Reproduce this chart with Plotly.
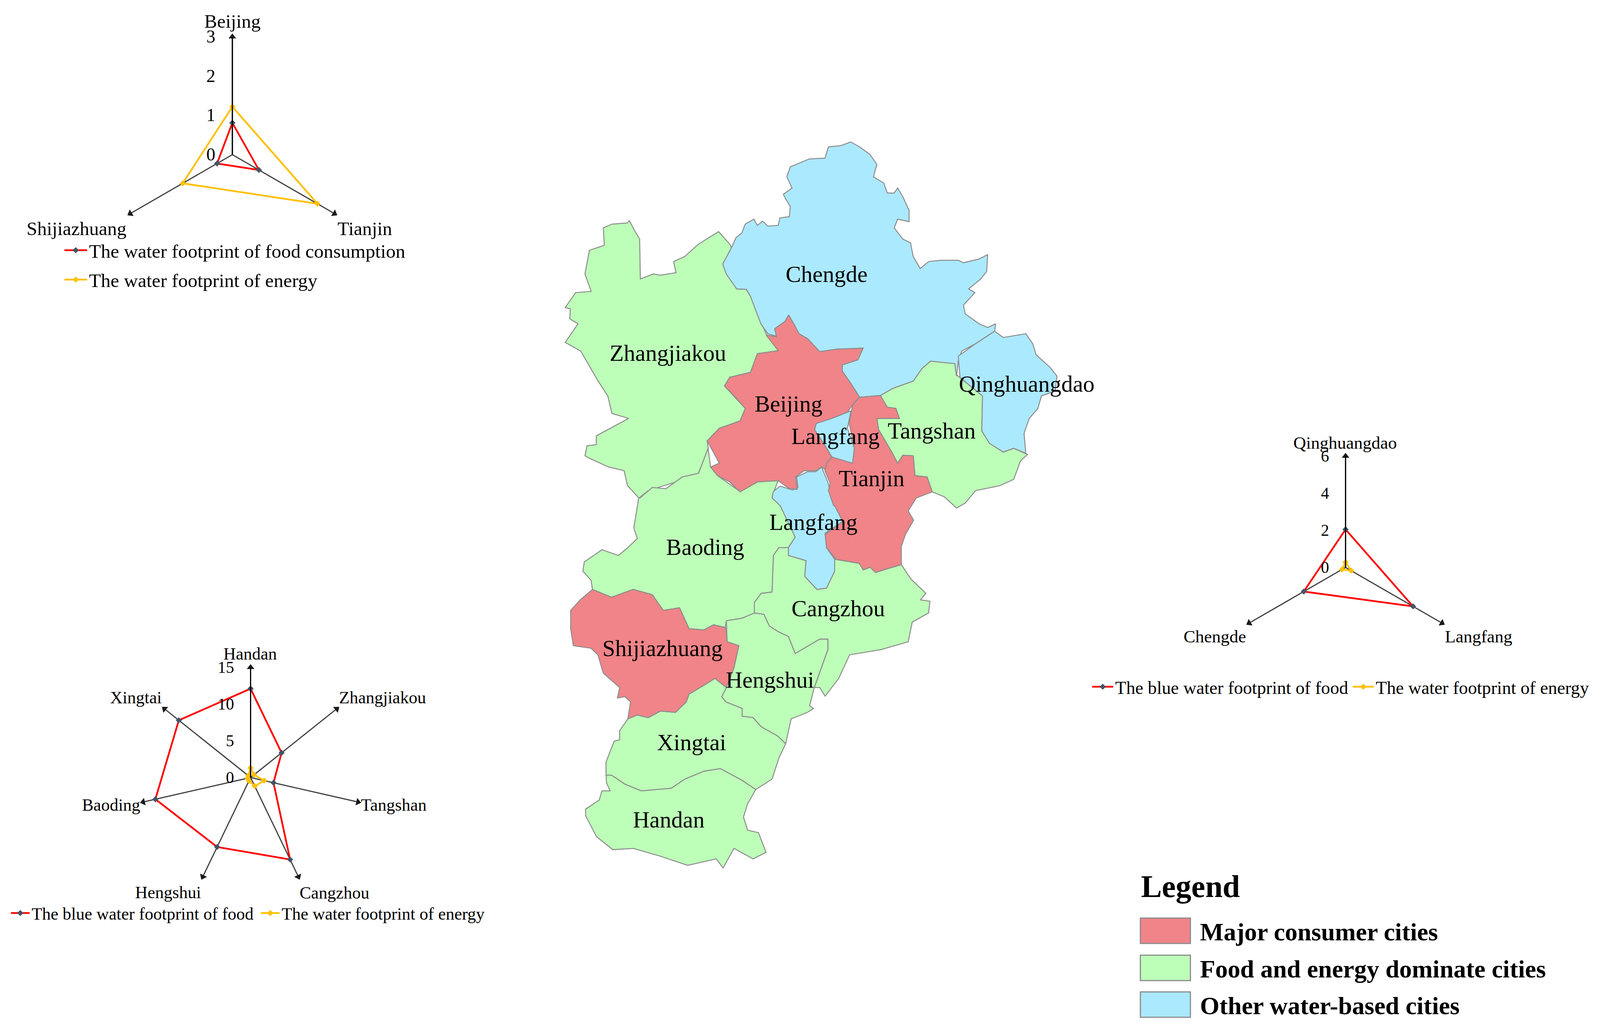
import plotly.graph_objects as go

W, H = 4117, 2635

# radar data
north_cities = ["Beijing", "Tianjin", "Shijiazhuang"]
north_food = [0.81, 0.78, 0.45]
north_energy = [1.22, 2.5, 1.46]
north_ticks = [0, 1, 2, 3]

south_cities = ["Handan", "Zhangjiakou", "Tangshan", "Cangzhou", "Hengshui", "Baoding", "Xingtai"]
south_food = [12.1, 5.4, 3.2, 12.4, 10.5, 13.3, 12.5]
south_energy = [1.3, 0.6, 1.9, 1.3, 0.5, 0.4, 0.4]
south_ticks = [0, 5, 10, 15]

east_cities = ["Qinghuangdao", "Langfang", "Chengde"]
east_food = [2.05, 4.2, 2.6]
east_energy = [0.28, 0.35, 0.22]
east_ticks = [0, 2, 4, 6]

upper_crop = lambda pts: [(1400 + x / 1.12, 330 + y / 1.568) for x, y in pts]
lower_crop = lambda pts: [(1400 + x / 1.425, 1200 + y / 1.493) for x, y in pts]

chengde = upper_crop([(880, 40), (905, 60), (935, 90), (955, 130), (945, 180), (975, 205), (985, 245), (1005, 245), (1015, 225), (1030, 260), (1048, 315), (1048, 360), (1015, 350), (1005, 385), (1030, 430), (1052, 445), (1060, 500), (1080, 548), (1105, 520), (1140, 515), (1190, 515), (1205, 525), (1250, 510), (1275, 492), (1272, 560), (1255, 590), (1220, 630), (1238, 645), (1205, 695), (1210, 730), (1250, 770), (1275, 785), (1298, 770), (1295, 800), (1240, 850), (1200, 880), (1190, 920), (1185, 980), (1180, 930), (1110, 920), (1085, 950), (1060, 1000), (1000, 1030), (965, 1058), (905, 1065), (880, 1010), (855, 960), (855, 935), (900, 915), (915, 868), (840, 872), (790, 882), (755, 830), (730, 810), (715, 770), (700, 735), (690, 760), (660, 790), (665, 820), (640, 810), (620, 770), (590, 660), (578, 632), (550, 630), (520, 570), (510, 530), (535, 465), (548, 425), (565, 405), (575, 370), (600, 350), (610, 375), (625, 358), (640, 378), (670, 375), (675, 345), (702, 340), (705, 300), (690, 265), (685, 250), (710, 225), (695, 180), (705, 140), (760, 108), (805, 105), (815, 60), (850, 55)])
qinghuangdao = upper_crop([(1295, 800), (1320, 825), (1385, 810), (1405, 850), (1415, 895), (1455, 945), (1475, 980), (1470, 1040), (1430, 1060), (1420, 1110), (1395, 1150), (1380, 1210), (1385, 1290), (1350, 1270), (1320, 1285), (1280, 1250), (1258, 1200), (1260, 1060), (1195, 985), (1190, 900), (1240, 850)])
tangshan = upper_crop([(1110, 920), (1180, 930), (1185, 975), (1260, 1060), (1258, 1200), (1280, 1250), (1320, 1285), (1350, 1270), (1390, 1295), (1370, 1320), (1350, 1395), (1310, 1420), (1240, 1440), (1210, 1490), (1185, 1510), (1150, 1465), (1115, 1445), (1100, 1385), (1065, 1380), (1060, 1300), (1030, 1298), (1015, 1330), (1000, 1290), (960, 1195), (955, 1150), (1020, 1150), (1010, 1110), (985, 1105), (965, 1058), (1000, 1030), (1060, 1000), (1085, 950)])
beijing = upper_crop([(700, 735), (715, 770), (730, 810), (755, 830), (790, 882), (840, 872), (915, 868), (900, 915), (855, 935), (855, 960), (880, 1010), (905, 1065), (885, 1095), (870, 1125), (825, 1150), (780, 1170), (775, 1195), (810, 1270), (825, 1305), (810, 1330), (805, 1355), (795, 1345), (780, 1360), (745, 1360), (720, 1385), (725, 1435), (700, 1430), (670, 1400), (610, 1405), (560, 1445), (530, 1405), (495, 1380), (475, 1345), (500, 1330), (465, 1240), (500, 1190), (560, 1160), (575, 1110), (550, 1070), (515, 1020), (530, 985), (590, 965), (610, 890), (670, 878), (635, 815), (665, 822), (660, 790), (690, 760)])
tianjin = (upper_crop([(905, 1065), (965, 1058), (985, 1105), (1010, 1110), (1020, 1150), (955, 1150), (960, 1195), (1000, 1290), (1015, 1330), (1030, 1298), (1060, 1300), (1065, 1380), (1100, 1385), (1115, 1445)])
           + lower_crop([(1360, 100), (1330, 150), (1350, 185), (1320, 240), (1305, 285), (1305, 355), (1240, 375), (1210, 385), (1190, 365), (1165, 375), (1150, 350), (1065, 335), (1030, 290), (1025, 240), (1090, 190), (1060, 130)])
           + upper_crop([(830, 1500), (815, 1440), (820, 1410), (805, 1360), (810, 1330), (825, 1305), (885, 1330), (890, 1270), (875, 1170), (885, 1095)]))
langfang_north = upper_crop([(880, 1120), (870, 1190), (890, 1270), (885, 1330), (850, 1320), (825, 1305), (810, 1270), (775, 1195), (780, 1170), (825, 1150), (870, 1125)])
langfang_south = lower_crop([(1012, -18), (1035, 40), (1045, 80), (1060, 130), (1090, 190), (1025, 235), (1030, 290), (1060, 335), (1060, 380), (1030, 445), (995, 450), (950, 400), (955, 340), (890, 320), (890, 290), (915, 250), (860, 130), (830, 100), (835, 75), (860, 55), (905, 70), (925, 60), (920, 20), (960, 0), (990, 0)])
zhangjiakou = upper_crop([(240, 355), (255, 395), (270, 430), (272, 590), (310, 570), (330, 575), (375, 565), (368, 520), (400, 500), (440, 450), (498, 400), (530, 450), (535, 465), (510, 530), (550, 630), (578, 632), (590, 660), (635, 810), (670, 878), (610, 890), (590, 965), (530, 985), (515, 1020), (575, 1110), (560, 1160), (500, 1190), (465, 1240), (468, 1270), (440, 1370), (400, 1395), (340, 1420), (295, 1440), (268, 1470), (235, 1420), (225, 1360), (180, 1345), (125, 1310), (112, 1300), (118, 1260), (145, 1255), (145, 1220), (185, 1190), (238, 1150), (190, 1130), (178, 1060), (150, 1000), (100, 880), (55, 845), (92, 770), (68, 750), (70, 710), (55, 705), (85, 645), (130, 640), (112, 570), (125, 475), (168, 455), (165, 385), (190, 370), (235, 365)])
baoding = lower_crop([(345, 100), (390, 60), (440, 65), (500, 20), (560, 6), (595, -90), (604, -18), (630, 15), (713, 76), (776, 39), (852, 34), (830, 95), (860, 130), (915, 250), (890, 290), (855, 290), (835, 320), (830, 460), (790, 465), (765, 500), (765, 540), (720, 560), (662, 570), (658, 595), (615, 585), (580, 605), (525, 600), (490, 520), (430, 530), (390, 470), (320, 450), (240, 480), (170, 450), (165, 415), (135, 380), (140, 345), (205, 298), (265, 320), (295, 295), (335, 255), (322, 215), (340, 100)])
shijiazhuang = lower_crop([(170, 450), (240, 480), (320, 450), (390, 470), (430, 530), (490, 520), (525, 600), (580, 605), (615, 585), (660, 597), (665, 650), (708, 665), (690, 750), (662, 825), (620, 790), (590, 810), (525, 850), (515, 880), (475, 920), (420, 915), (375, 940), (335, 930), (300, 945), (310, 880), (290, 860), (262, 865), (270, 825), (210, 770), (190, 700), (165, 675), (100, 665), (90, 600), (90, 530), (125, 490)])
cangzhou = lower_crop([(1060, 335), (1150, 350), (1165, 375), (1190, 365), (1210, 385), (1305, 355), (1340, 410), (1395, 465), (1375, 490), (1410, 495), (1405, 540), (1345, 575), (1330, 650), (1230, 680), (1115, 700), (1075, 790), (1025, 858), (1005, 825), (985, 825), (1035, 680), (1035, 640), (1005, 640), (915, 695), (890, 630), (850, 610), (820, 590), (800, 545), (765, 540), (765, 500), (790, 465), (830, 460), (835, 320), (855, 290), (890, 290), (890, 320), (955, 340), (950, 400), (995, 450), (1030, 445), (1060, 380)])
hengshui = lower_crop([(662, 570), (720, 560), (765, 540), (800, 545), (820, 590), (850, 610), (890, 630), (915, 695), (1005, 640), (1035, 640), (1035, 680), (985, 825), (968, 895), (982, 905), (960, 920), (900, 945), (880, 1040), (850, 1010), (790, 975), (760, 940), (720, 935), (720, 905), (660, 880), (645, 860), (662, 825), (690, 750), (708, 665), (665, 650)])
xingtai = lower_crop([(300, 945), (335, 930), (375, 940), (420, 915), (475, 920), (515, 880), (525, 850), (590, 810), (620, 790), (662, 825), (645, 860), (660, 880), (720, 905), (720, 935), (760, 940), (790, 975), (850, 1010), (880, 1040), (855, 1095), (830, 1175), (770, 1215), (720, 1180), (640, 1135), (580, 1145), (510, 1175), (460, 1210), (350, 1220), (290, 1195), (240, 1160), (220, 1160), (220, 1110), (250, 1030), (270, 1025), (270, 990)])
handan = lower_crop([(220, 1160), (240, 1160), (290, 1195), (350, 1220), (460, 1210), (510, 1175), (580, 1145), (640, 1135), (720, 1180), (770, 1215), (740, 1270), (725, 1320), (740, 1370), (780, 1380), (808, 1455), (760, 1480), (690, 1440), (650, 1515), (625, 1480), (520, 1505), (420, 1470), (320, 1440), (245, 1445), (185, 1395), (145, 1315), (145, 1290), (195, 1255), (205, 1220), (235, 1220), (222, 1190)])

map_labels = ["Chengde", "Zhangjiakou", "Beijing", "Langfang", "Tangshan", "Qinghuangdao", "Tianjin", "Langfang", "Baoding", "Cangzhou", "Shijiazhuang", "Hengshui", "Xingtai", "Handan"]
map_label_x = [2123, 1714, 2025, 2146, 2394, 2639, 2239, 2089, 1810, 2153, 1700, 1977, 1775, 1716]
map_label_y = [699, 901, 1031, 1114, 1100, 980, 1222, 1334, 1398, 1555, 1657, 1738, 1898, 2096]

legend_names = ["Major consumer cities", "Food and energy dominate cities", "Other water-based cities"]

RED_FILL = "#F08488"
GREEN_FILL = "#BDFFB8"
BLUE_FILL = "#ABE9FF"
EDGE = "#8C8C8C"
SERIF = "Liberation Serif"

fig = go.Figure()

# green first, the red and blue cities sit on top of it
regions = [
    (zhangjiakou, GREEN_FILL), (baoding, GREEN_FILL), (tangshan, GREEN_FILL), (cangzhou, GREEN_FILL),
    (hengshui, GREEN_FILL), (xingtai, GREEN_FILL), (handan, GREEN_FILL),
    (chengde, BLUE_FILL), (qinghuangdao, BLUE_FILL), (langfang_north, BLUE_FILL), (langfang_south, BLUE_FILL),
    (beijing, RED_FILL), (tianjin, RED_FILL), (shijiazhuang, RED_FILL),
]
for pts, col in regions:
    fig.add_trace(go.Scatter(x=[p[0] for p in pts] + [pts[0][0]], y=[p[1] for p in pts] + [pts[0][1]],
                             mode="lines", fill="toself", fillcolor=col,
                             line=dict(color=EDGE, width=2.5), hoverinfo="skip", showlegend=False))

fig.add_trace(go.Scatter(x=map_label_x, y=map_label_y, mode="text", text=map_labels,
                         textfont=dict(family=SERIF, size=59, color="black"), hoverinfo="skip", showlegend=False))

annotations = []


def add_radar(name, legend, cities, food, energy, ticks, food_label, cx, cy, radius, label_xy, label_size, tick_size):
    n = len(cities)
    # arrow heads on the ends of the spokes
    fig.add_trace(go.Scatterpolar(r=[ticks[-1]] * n, theta=cities, subplot=name, mode="markers",
                                  marker=dict(symbol="triangle-up", size=17, color="#1A1A1A", angle=[360 * i / n for i in range(n)]),
                                  showlegend=False, hoverinfo="skip"))
    fig.add_trace(go.Scatterpolar(r=food + food[:1], theta=cities + cities[:1], subplot=name, mode="lines+markers",
                                  name=food_label, legend=legend, legendgroup=legend + "_food",
                                  line=dict(color="#FF0000", width=4.5),
                                  marker=dict(color="#44546A", size=12, symbol="diamond")))
    fig.add_trace(go.Scatterpolar(r=energy + energy[:1], theta=cities + cities[:1], subplot=name, mode="lines+markers",
                                  name="The water footprint of energy", legend=legend, legendgroup=legend + "_energy",
                                  line=dict(color="#FFC000", width=4.5),
                                  marker=dict(color="#FFC000", size=12, symbol="diamond")))
    # city names are placed by hand, they do not sit at an even distance from the spoke ends
    for city, (lx, ly) in zip(cities, label_xy):
        annotations.append(dict(x=lx, y=ly, xref="x", yref="y", text=city, showarrow=False,
                                font=dict(family=SERIF, size=label_size, color="black")))
    return dict(
        domain=dict(x=[(cx - radius) / W, (cx + radius) / W], y=[1 - (cy + radius) / H, 1 - (cy - radius) / H]),
        bgcolor="rgba(0,0,0,0)",
        radialaxis=dict(range=[0, ticks[-1]], angle=90, tickangle=90, tickvals=ticks, showgrid=False, showline=True,
                        linecolor="#000000", linewidth=3, ticks="outside", ticklen=26, tickcolor="rgba(0,0,0,0)",
                        side="counterclockwise", tickfont=dict(family=SERIF, size=tick_size, color="black")),
        angularaxis=dict(type="category", categoryorder="array", categoryarray=cities, rotation=90, direction="clockwise",
                         showline=False, showgrid=True, gridcolor="#404040", gridwidth=3, ticks="", showticklabels=False),
    )


polar_n = add_radar("polar", "legend", north_cities, north_food, north_energy, north_ticks,
                    "The water footprint of food consumption", 591, 388, 304,
                    [(591, 46), (933, 577), (189, 577)], 49, 46)
polar_s = add_radar("polar2", "legend2", south_cities, south_food, south_energy, south_ticks,
                    "The blue water footprint of food", 638, 1983, 284,
                    [(637, 1666), (978, 1778), (1007, 2053), (854, 2278), (425, 2277), (278, 2053), (342, 1778)], 44, 42)
polar_e = add_radar("polar3", "legend3", east_cities, east_food, east_energy, east_ticks,
                    "The blue water footprint of food", 3461, 1445, 287,
                    [(3460, 1126), (3804, 1622), (3124, 1622)], 45, 42)

# map legend
shapes = []
annotations.append(dict(x=2932, y=2262, xref="x", yref="y", text="<b>Legend</b>", showarrow=False, xanchor="left",
                        font=dict(family=SERIF, size=80, color="black")))
swatch_tops = [2343, 2438, 2532]
for top, col, label in zip(swatch_tops, [RED_FILL, GREEN_FILL, BLUE_FILL], legend_names):
    shapes.append(dict(type="rect", xref="x", yref="y", x0=2932, x1=3061, y0=top, y1=top + 65, fillcolor=col,
                       line=dict(color=EDGE, width=3)))
    annotations.append(dict(x=3084, y=top + 35, xref="x", yref="y", text=f"<b>{label}</b>", showarrow=False, xanchor="left",
                            font=dict(family=SERIF, size=64, color="black")))

fig.update_layout(
    width=W, height=H, margin=dict(l=0, r=0, t=0, b=0), paper_bgcolor="white", plot_bgcolor="white",
    xaxis=dict(range=[0, W], domain=[0, 1], visible=False),
    yaxis=dict(range=[H, 0], domain=[0, 1], visible=False),
    polar=polar_n, polar2=polar_s, polar3=polar_e,
    shapes=shapes, annotations=annotations,
    legend=dict(x=153 / W, y=1 - 594 / H, xanchor="left", yanchor="top", bgcolor="rgba(0,0,0,0)", itemwidth=58,
                tracegroupgap=8, font=dict(family=SERIF, size=49.5, color="black")),
    legend2=dict(x=15 / W, y=1 - 2295 / H, xanchor="left", yanchor="top", orientation="h", bgcolor="rgba(0,0,0,0)", itemwidth=48,
                 entrywidth=577, font=dict(family=SERIF, size=44, color="black")),
    legend3=dict(x=2803 / W, y=1 - 1714 / H, xanchor="left", yanchor="top", orientation="h", bgcolor="rgba(0,0,0,0)", itemwidth=54,
                 entrywidth=598, font=dict(family=SERIF, size=46.2, color="black")),
)

fig.write_html("out.html")
